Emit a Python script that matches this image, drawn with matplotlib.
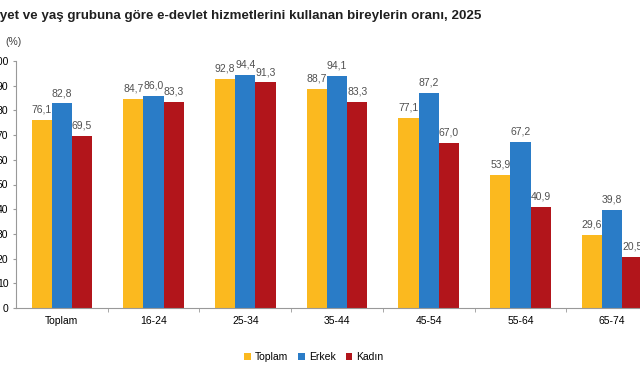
import numpy as np
import matplotlib.pyplot as plt

plt.rcParams['font.family'] = ['Liberation Sans', 'DejaVu Sans']

categories = ['Toplam', '16-24', '25-34', '35-44', '45-54', '55-64', '65-74']
toplam = [76.1, 84.7, 92.8, 88.7, 77.1, 53.9, 29.6]
erkek = [82.8, 86.0, 94.4, 94.1, 87.2, 67.2, 39.8]
kadin = [69.5, 83.3, 91.3, 83.3, 67.0, 40.9, 20.5]
series_names = ['Toplam', 'Erkek', 'Kadın']
colors = ['#FBB91F', '#2A7CC7', '#B2151B']

fig = plt.figure(figsize=(6.4, 3.72), dpi=100)
# axes run past the right edge, like the cropped original
ax = fig.add_axes([16/640, 1 - 308/372, 642/640, 247/372])

x = np.arange(len(categories))
w = 0.22
for i, (vals, name, c) in enumerate(zip([toplam, erkek, kadin], series_names, colors)):
    pos = x + (i - 1) * w
    ax.bar(pos, vals, width=w, color=c, label=name)
    for p, v in zip(pos, vals):
        ax.text(p, v + 2.2, f'{v:.1f}'.replace('.', ','), ha='center', va='bottom',
                fontsize=7.5, color='#505050', clip_on=False)

ax.set_xlim(-0.5, len(categories) - 0.5)
ax.set_ylim(0, 100)
ax.set_yticks(range(0, 101, 10))
ax.set_xticks(x)
ax.set_xticklabels(categories, fontsize=7.5)
ax.set_xticks(np.arange(0.5, len(categories) - 0.5), minor=True)
ax.tick_params(axis='x', which='major', length=0, pad=6)
ax.tick_params(axis='x', which='minor', length=3, color='#999999')
ax.tick_params(axis='y', length=2.5, color='#999999', labelsize=7.5, pad=3)
for s in ['top', 'right']:
    ax.spines[s].set_visible(False)
for s in ['left', 'bottom']:
    ax.spines[s].set_color('#999999')

fig.text(5/640, 1 - 42/372, '(%)', fontsize=7.5, color='#404040', va='center')
fig.text(481/640, 1 - 16/372,
         'Cinsiyet ve yaş grubuna göre e-devlet hizmetlerini kullanan bireylerin oranı, 2025',
         ha='right', va='center', fontsize=9.62, fontweight='bold', color='#202020')

fig.legend(loc='center', bbox_to_anchor=(314/640, 1 - 357/372), ncol=3, frameon=False,
           fontsize=7.5, handlelength=0.6, handleheight=0.6, handletextpad=0.4,
           columnspacing=1.0)

fig.savefig('out.png', dpi=100)
